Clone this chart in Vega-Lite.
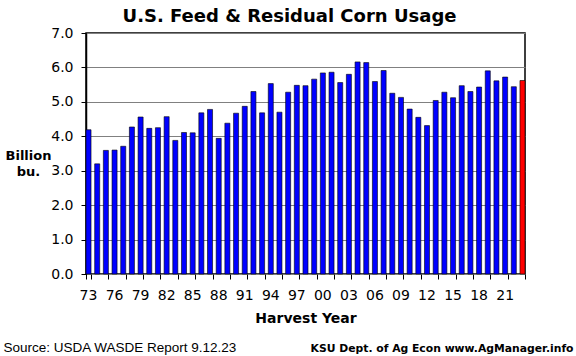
{
  "$schema": "https://vega.github.io/schema/vega-lite/v6.json",
  "autosize": {"type": "none"},
  "width": 439,
  "height": 241,
  "padding": {"left": 86, "top": 33, "right": 51, "bottom": 82},
  "background": "#ffffff",
  "config": {
    "view": {"stroke": "#000000", "strokeWidth": 1.5},
    "font": "DejaVu Sans"
  },
  "title": {
    "text": "U.S. Feed & Residual Corn Usage",
    "font": "DejaVu Sans",
    "fontSize": 18,
    "fontWeight": "bold",
    "color": "#000000",
    "anchor": "middle",
    "baseline": "alphabetic",
    "offset": 8,
    "dx": -16,
    "dy": 22
  },
  "data": {
    "values": [
      {"year": 1973, "v": 4.19}, {"year": 1974, "v": 3.20}, {"year": 1975, "v": 3.59},
      {"year": 1976, "v": 3.60}, {"year": 1977, "v": 3.71}, {"year": 1978, "v": 4.27},
      {"year": 1979, "v": 4.56}, {"year": 1980, "v": 4.23}, {"year": 1981, "v": 4.25},
      {"year": 1982, "v": 4.57}, {"year": 1983, "v": 3.88}, {"year": 1984, "v": 4.11},
      {"year": 1985, "v": 4.10}, {"year": 1986, "v": 4.68}, {"year": 1987, "v": 4.78},
      {"year": 1988, "v": 3.94}, {"year": 1989, "v": 4.38}, {"year": 1990, "v": 4.67},
      {"year": 1991, "v": 4.87}, {"year": 1992, "v": 5.30}, {"year": 1993, "v": 4.68},
      {"year": 1994, "v": 5.53}, {"year": 1995, "v": 4.70}, {"year": 1996, "v": 5.28},
      {"year": 1997, "v": 5.48}, {"year": 1998, "v": 5.47}, {"year": 1999, "v": 5.66},
      {"year": 2000, "v": 5.84}, {"year": 2001, "v": 5.86}, {"year": 2002, "v": 5.56},
      {"year": 2003, "v": 5.80}, {"year": 2004, "v": 6.16}, {"year": 2005, "v": 6.14},
      {"year": 2006, "v": 5.59}, {"year": 2007, "v": 5.91}, {"year": 2008, "v": 5.25},
      {"year": 2009, "v": 5.13}, {"year": 2010, "v": 4.79}, {"year": 2011, "v": 4.55},
      {"year": 2012, "v": 4.31}, {"year": 2013, "v": 5.04}, {"year": 2014, "v": 5.28},
      {"year": 2015, "v": 5.12}, {"year": 2016, "v": 5.47}, {"year": 2017, "v": 5.30},
      {"year": 2018, "v": 5.43}, {"year": 2019, "v": 5.90}, {"year": 2020, "v": 5.61},
      {"year": 2021, "v": 5.72}, {"year": 2022, "v": 5.44}, {"year": 2023, "v": 5.62}
    ]
  },
  "resolve": {"axis": {"x": "independent", "y": "independent"}},
  "layer": [
    {
      "mark": {"type": "bar", "stroke": "#000000", "strokeWidth": 0.6},
      "encoding": {
        "x": {
          "field": "year",
          "type": "ordinal",
          "scale": {"paddingInner": 0.42, "paddingOuter": 0},
          "axis": {
            "orient": "bottom",
            "values": [1973, 1976, 1979, 1982, 1985, 1988, 1991, 1994, 1997, 2000, 2003, 2006, 2009, 2012, 2015, 2018, 2021],
            "labelExpr": "slice(toString(datum.value), 2)",
            "labelAngle": 0,
            "labelFont": "DejaVu Sans",
            "labelFontSize": 14,
            "labelColor": "#000000",
            "labelBaseline": "alphabetic",
            "labelPadding": 25,
            "ticks": false,
            "tickSize": 0,
            "domain": false,
            "grid": false,
            "title": "Harvest Year",
            "titleFont": "DejaVu Sans",
            "titleFontSize": 14,
            "titleFontWeight": "bold",
            "titleColor": "#000000",
            "titleBaseline": "alphabetic",
            "titleY": 48
          }
        },
        "y": {
          "field": "v",
          "type": "quantitative",
          "scale": {"domain": [0, 7], "nice": false, "zero": true},
          "axis": {
            "orient": "left",
            "values": [0, 1, 2, 3, 4, 5, 6, 7],
            "format": ".1f",
            "labelFont": "DejaVu Sans",
            "labelFontSize": 14,
            "labelColor": "#000000",
            "labelPadding": 8,
            "tickSize": 5,
            "tickColor": "#000000",
            "domainColor": "#000000",
            "domainWidth": 1.5,
            "grid": true,
            "gridColor": "#808080",
            "gridWidth": 1,
            "gridOpacity": 1,
            "title": ["Billion", "bu."],
            "titleFont": "DejaVu Sans",
            "titleFontSize": 13,
            "titleFontWeight": "bold",
            "titleColor": "#000000",
            "titleAngle": 0,
            "titleAlign": "center",
            "titleBaseline": "middle",
            "titleLineHeight": 16,
            "titleX": -58,
            "titleY": 122
          }
        },
        "color": {
          "condition": {"test": "datum.year === 2023", "value": "#ff0000"},
          "value": "#0000ff"
        }
      }
    },
    {
      "mark": {"type": "point", "opacity": 0},
      "encoding": {
        "x": {
          "field": "year",
          "type": "ordinal",
          "axis": {
            "orient": "bottom",
            "values": [1973, 1975, 1977, 1979, 1981, 1983, 1985, 1987, 1989, 1991, 1993, 1995, 1997, 1999, 2001, 2003, 2005, 2007, 2009, 2011, 2013, 2015, 2017, 2019, 2021, 2023],
            "tickBand": "extent",
            "tickExtra": false,
            "labels": false,
            "domain": false,
            "grid": false,
            "ticks": true,
            "tickSize": 5,
            "tickColor": "#000000",
            "title": "Source:  USDA WASDE Report 9.12.23",
            "titleFont": "Liberation Sans",
            "titleFontSize": 13.5,
            "titleFontWeight": "normal",
            "titleColor": "#000000",
            "titleAlign": "left",
            "titleBaseline": "alphabetic",
            "titleX": -83,
            "titleY": 77
          }
        },
        "y": {
          "field": "v",
          "type": "quantitative",
          "axis": {
            "orient": "right",
            "labels": false,
            "ticks": false,
            "domain": false,
            "grid": false,
            "title": "KSU Dept. of Ag Econ  www.AgManager.info",
            "titleFont": "DejaVu Sans",
            "titleFontSize": 10.8,
            "titleFontWeight": "bold",
            "titleColor": "#000000",
            "titleAngle": 0,
            "titleAlign": "right",
            "titleBaseline": "alphabetic",
            "titleX": 48,
            "titleY": 318
          }
        }
      }
    }
  ]
}
